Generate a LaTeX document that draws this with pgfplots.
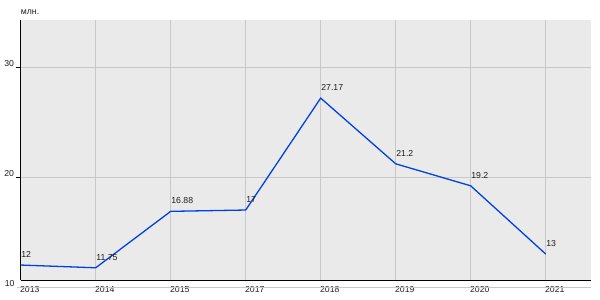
\documentclass[border=0pt]{standalone}
\usepackage{fontspec}
\setmainfont{Liberation Sans}
\usepackage{pgfplots}
\pgfplotsset{compat=1.18}
\definecolor{bgc}{RGB}{234,234,234}
\definecolor{gridc}{RGB}{200,200,200}
\definecolor{linec}{RGB}{0,66,224}
\definecolor{txt}{RGB}{30,30,30}
\begin{document}
\begin{tikzpicture}
\begin{axis}[
  name=ax,
  scale only axis,
  width=570.3pt, height=260pt,
  xmin=0, xmax=7.604,
  ymin=10.64, ymax=34.27,
  clip=false,
  axis x line*=bottom, axis y line*=left,
  axis line style={-, black, line width=0.8pt},
  axis background/.style={fill=bgc},
  grid=major,
  major grid style={gridc, line width=0.6pt},
  xtick={0,1,2,3,4,5,6,7},
  xticklabels={2013,2014,2015,2017,2018,2019,2020,2021},
  ytick={20,30},
  xtick style={draw=none},
  ytick style={black, line width=0.6pt},
  major tick length=5pt,
  tick align=outside,
  font=\fontsize{8.7}{10}\selectfont\color{txt},
  /pgf/number format/assume math mode=true,
  xticklabel style={anchor=north west, inner sep=0pt, yshift=-1pt, xshift=-0.8pt},
  yticklabel style={anchor=east, inner sep=0pt, xshift=-1.5pt, yshift=3.5pt},
  nodes near coords,
  point meta=explicit symbolic,
  every node near coord/.append style={anchor=south west, inner sep=0pt, yshift=7pt, font=\fontsize{8.7}{10}\selectfont, text=txt},
]
\draw[gridc, line width=0.6pt] (axis cs:-0.05,10) -- (axis cs:7.604,10);
\addplot[linec, line width=1.3pt, mark=none] table[meta=label] {
x y label
0 12 12
1 11.75 11.75
2 16.88 16.88
3 17 17
4 27.17 27.17
5 21.2 21.2
6 19.2 19.2
7 13 13
};
\node[anchor=east, inner sep=0pt, font=\fontsize{8.7}{10}\selectfont, text=txt] at ([xshift=-6pt, yshift=3.5pt]axis cs:0,10) {10};
\node[anchor=base west, inner sep=0pt, font=\fontsize{8.7}{10}\selectfont, text=txt] at ([yshift=5pt]axis cs:0,34.27) {млн.};
\end{axis}
\pgfresetboundingbox
\useasboundingbox ([shift={(-20.7pt,-20pt)}]ax.south west) rectangle ([shift={(9pt,20pt)}]ax.north east);
\end{tikzpicture}
\end{document}
